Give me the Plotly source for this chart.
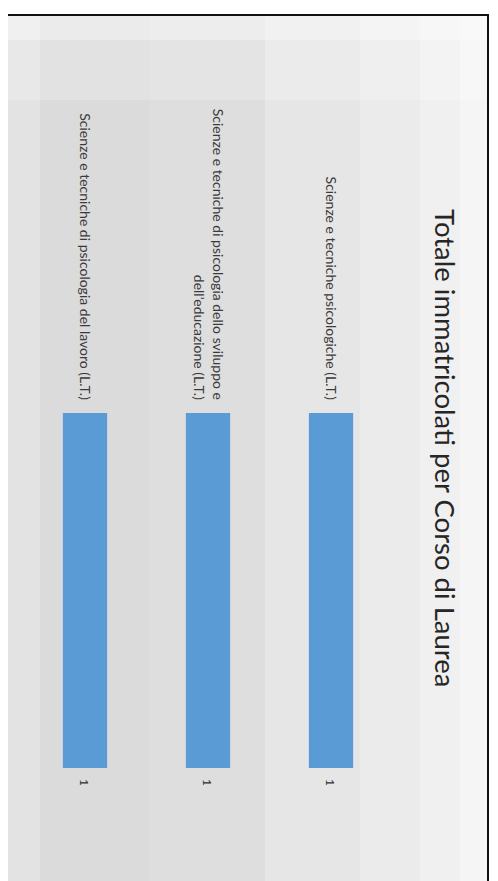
import plotly.graph_objects as go

# ---- data ----
categories = [
    "Scienze e tecniche di psicologia del lavoro (L.T.)",
    "Scienze e tecniche di psicologia dello sviluppo e<br>dell'educazione (L.T.)",
    "Scienze e tecniche psicologiche (L.T.)",
]
values = [1, 1, 1]
value_labels = ["1", "1", "1"]
title_text = "Totale immatricolati per Corso di Laurea"

# page has an 8px body margin; figure sized to fit the 498x881 window
OFF = 8
W, H = 498 - OFF, 881 - OFF


def px(x):
    return (x - OFF) / W


def py(y):
    return 1 - (y - OFF) / H


fig = go.Figure(
    go.Bar(
        x=categories,
        y=values,
        marker=dict(color="#5B9BD5", line=dict(width=0)),
        width=0.36,
        hoverinfo="skip",
    )
)

shapes = []
# background bands approximating the photographed slide gradient
bands = [
    (0, 40, "#e3e3e3"),
    (40, 150, "#dbdbdb"),
    (150, 265, "#dedede"),
    (265, 360, "#e6e6e6"),
    (360, 420, "#ebebeb"),
    (420, 460, "#f0f0f0"),
    (460, 487, "#f5f5f5"),
]
for x0, x1, c in bands:
    shapes.append(dict(type="rect", xref="paper", yref="paper",
                       x0=px(x0), x1=px(x1), y0=py(900), y1=py(16),
                       fillcolor=c, line=dict(width=0), layer="below"))
# lighter top strips
shapes.append(dict(type="rect", xref="paper", yref="paper",
                   x0=px(0), x1=px(487), y0=py(40), y1=py(16),
                   fillcolor="rgba(255,255,255,0.45)", line=dict(width=0), layer="below"))
shapes.append(dict(type="rect", xref="paper", yref="paper",
                   x0=px(0), x1=px(487), y0=py(100), y1=py(40),
                   fillcolor="rgba(255,255,255,0.2)", line=dict(width=0), layer="below"))
# frame
shapes.append(dict(type="rect", xref="paper", yref="paper",
                   x0=px(-2), x1=px(488), y0=py(900), y1=py(15),
                   fillcolor="rgba(0,0,0,0)", line=dict(color="#111111", width=2), layer="above"))

annotations = []
for c, v, t in zip(categories, values, value_labels):
    annotations.append(dict(x=c, y=v, xref="x", yref="y", text=t, showarrow=False,
                            textangle=90, yshift=-14, xanchor="center", yanchor="middle",
                            font=dict(family="Lato", size=12, color="#303030")))
annotations.append(dict(x=px(446), y=py(448), xref="paper", yref="paper", text=title_text,
                        showarrow=False, textangle=90, xanchor="center", yanchor="middle",
                        font=dict(family="Lato", size=27.5, color="#262626")))

fig.update_layout(
    width=W, height=H,
    margin=dict(l=0, r=0, t=0, b=0),
    paper_bgcolor="white",
    plot_bgcolor="rgba(0,0,0,0)",
    showlegend=False,
    shapes=shapes,
    annotations=annotations,
    xaxis=dict(
        domain=[px(23.5), px(392.5)],
        type="category",
        range=[-0.5, 2.5],
        side="top",
        tickangle=90,
        showgrid=False, zeroline=False, showline=False,
        ticks="",
        ticklabelstandoff=10,
        tickfont=dict(family="Lato", size=14, color="#3a3a3a"),
    ),
    yaxis=dict(
        domain=[py(856.75), py(413)],
        range=[1.25, 0],
        visible=False,
        showgrid=False, zeroline=False,
    ),
)

fig.write_html("out.html")
